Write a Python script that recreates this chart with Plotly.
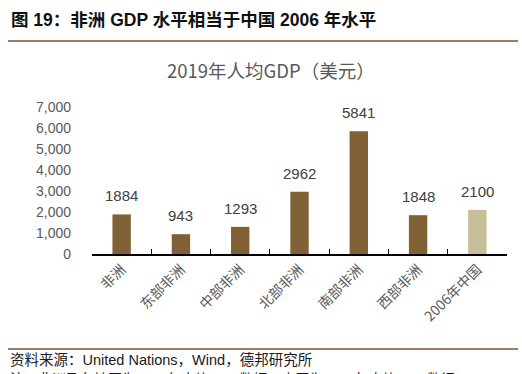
import plotly.graph_objects as go

categories = ["非洲", "东部非洲", "中部非洲", "北部非洲", "南部非洲", "西部非洲", "2006年中国"]
gdp_per_capita = [1884, 943, 1293, 2962, 5841, 1848, 2100]
bar_colors = ["#806035", "#806035", "#806035", "#806035", "#806035", "#806035", "#C7BD97"]
ytick_vals = [0, 1000, 2000, 3000, 4000, 5000, 6000, 7000]
ytick_labels = ["0", "1,000", "2,000", "3,000", "4,000", "5,000", "6,000", "7,000"]

header = "图 19：非洲 GDP 水平相当于中国 2006 年水平"
chart_title = "2019年人均GDP（美元）"
source = "资料来源：United Nations，Wind，德邦研究所"
note = "注：非洲及各地区为2019年人均GDP数据，中国为2006年人均GDP数据"

W, H = 522, 374
L, R, T, B = 92, 507, 107, 254


def px(xp):
    return (xp - L) / (R - L)


def py(yp):
    return (B - yp) / (B - T)


fig = go.Figure()
fig.add_trace(go.Bar(
    x=categories, y=gdp_per_capita,
    marker=dict(color=bar_colors, line=dict(width=0)),
    width=0.31, hoverinfo="skip",
))

annotations = []
for c, v in zip(categories, gdp_per_capita):
    annotations.append(dict(
        x=c, y=v, xref="x", yref="y", text=str(v), showarrow=False,
        yanchor="bottom", yshift=8,
        font=dict(family="Liberation Sans, Arial", size=15, color="#404040"),
    ))

annotations += [
    dict(x=px(9), y=py(20), xref="paper", yref="paper", text="<b>" + header + "</b>",
         showarrow=False, xanchor="left", yanchor="middle",
         font=dict(family="Liberation Sans, Noto Sans CJK SC", size=17.5, color="#111111")),
    dict(x=px(271), y=py(70), xref="paper", yref="paper", text=chart_title,
         showarrow=False, xanchor="center", yanchor="middle",
         font=dict(family="Noto Sans CJK SC", size=18.5, color="#595959")),
    dict(x=px(8), y=py(360), xref="paper", yref="paper", text=source,
         showarrow=False, xanchor="left", yanchor="middle",
         font=dict(family="Liberation Sans, Noto Sans CJK SC", size=14.5, color="#1a1a1a")),
    dict(x=px(8), y=py(379), xref="paper", yref="paper", text=note,
         showarrow=False, xanchor="left", yanchor="middle",
         font=dict(family="Liberation Sans, Noto Sans CJK SC", size=14, color="#1a1a1a")),
]

shapes = [
    dict(type="line", xref="paper", yref="paper", x0=px(8), x1=px(518), y0=py(41), y1=py(41),
         line=dict(color="#A47B5E", width=2)),
    dict(type="line", xref="paper", yref="paper", x0=px(8), x1=px(518), y0=py(349), y1=py(349),
         line=dict(color="#A47B5E", width=2)),
]

fig.update_layout(
    width=W, height=H,
    margin=dict(l=L, r=W - R, t=T, b=H - B, pad=0, autoexpand=False),
    paper_bgcolor="white", plot_bgcolor="white",
    showlegend=False,
    annotations=annotations,
    shapes=shapes,
    xaxis=dict(
        type="category", automargin=False,
        showline=True, linecolor="black", linewidth=1.5,
        ticks="inside", ticklen=5, tickcolor="black", tickwidth=1.2,
        tickson="boundaries",
        tickangle=-45,
        tickfont=dict(family="Noto Sans CJK SC", size=14, color="#595959"),
        showgrid=False, zeroline=False,
    ),
    yaxis=dict(
        range=[0, 7000], automargin=False,
        tickvals=ytick_vals, ticktext=ytick_labels,
        showline=False, showgrid=False, zeroline=False,
        ticks="", ticklabelstandoff=20,
        tickfont=dict(family="Liberation Sans, Arial", size=14, color="#595959"),
    ),
)

fig.write_html("out.html", config={"displayModeBar": False},
               post_script="document.body.style.margin='0px';")
